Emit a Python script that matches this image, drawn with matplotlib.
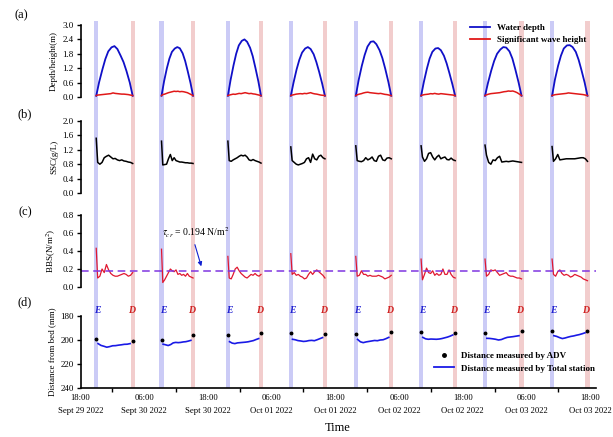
import matplotlib
matplotlib.use("Agg")
import matplotlib.pyplot as plt
import matplotlib.transforms as mtransforms
from matplotlib.lines import Line2D

plt.rcParams['font.family'] = ['Liberation Serif', 'DejaVu Serif']
plt.rcParams['mathtext.fontset'] = 'stix'

# hours after Sept 29 2022 18:00
e_times = [2.96, 15.26, 27.76, 39.61, 51.85, 64.15, 76.19, 88.82]   # E (blue band)
d_times = [9.83, 21.2, 34.0, 46.04, 58.53, 70.57, 83.07, 95.49]     # D (red band)

tick_hours = [0, 12, 24, 36, 48, 60, 72, 84, 96]
tick_labels = ["18:00\nSept 29 2022", "06:00\nSept 30 2022", "18:00\nSept 30 2022",
               "06:00\nOct 01 2022", "18:00\nOct 01 2022", "06:00\nOct 02 2022",
               "18:00\nOct 02 2022", "06:00\nOct 03 2022", "18:00\nOct 03 2022"]

# relative position inside each E-D window
frac_depth = [0, .08, .17, .25, .33, .42, .5, .58, .67, .75, .83, .92, 1]
frac_fine = [0, .04, .1, .16, .22, .28, .34, .4, .46, .52, .58, .64, .7, .76, .82, .88, .94, 1]
frac_dist = [.05, .13, .21, .29, .37, .45, .53, .61, .69, .77, .85, .93]

depth = [
    [0.05, 0.62, 1.15, 1.58, 1.90, 2.07, 2.12, 2.00, 1.72, 1.45, 1.08, 0.60, 0.05],
    [0.05, 0.65, 1.20, 1.60, 1.88, 2.02, 2.08, 2.03, 1.82, 1.50, 1.08, 0.58, 0.05],
    [0.05, 0.70, 1.32, 1.80, 2.15, 2.34, 2.40, 2.30, 2.05, 1.70, 1.22, 0.65, 0.05],
    [0.05, 0.60, 1.15, 1.55, 1.85, 2.02, 2.08, 2.00, 1.78, 1.45, 1.05, 0.55, 0.05],
    [0.05, 0.70, 1.30, 1.75, 2.10, 2.30, 2.32, 2.20, 1.95, 1.62, 1.18, 0.62, 0.05],
    [0.05, 0.62, 1.18, 1.60, 1.88, 2.02, 2.04, 1.95, 1.72, 1.40, 1.00, 0.52, 0.05],
    [0.05, 0.58, 1.10, 1.50, 1.80, 1.98, 2.08, 2.06, 1.90, 1.60, 1.15, 0.60, 0.05],
    [0.05, 0.72, 1.30, 1.72, 2.02, 2.15, 2.16, 2.08, 1.88, 1.55, 1.12, 0.60, 0.05],
]

wave = [
    [0.06, 0.08, 0.09, 0.1, 0.11, 0.12, 0.13, 0.14, 0.17, 0.15, 0.14, 0.13, 0.12, 0.12, 0.11, 0.1, 0.08, 0.06],
    [0.06, 0.1, 0.12, 0.15, 0.18, 0.2, 0.22, 0.24, 0.23, 0.24, 0.22, 0.23, 0.22, 0.2, 0.18, 0.14, 0.1, 0.06],
    [0.06, 0.08, 0.1, 0.12, 0.11, 0.13, 0.15, 0.14, 0.16, 0.18, 0.16, 0.14, 0.15, 0.13, 0.12, 0.1, 0.08, 0.06],
    [0.06, 0.08, 0.1, 0.12, 0.13, 0.14, 0.13, 0.15, 0.14, 0.16, 0.18, 0.15, 0.13, 0.12, 0.1, 0.08, 0.07, 0.06],
    [0.06, 0.09, 0.12, 0.14, 0.17, 0.19, 0.2, 0.18, 0.17, 0.16, 0.15, 0.14, 0.15, 0.13, 0.11, 0.1, 0.08, 0.06],
    [0.06, 0.08, 0.1, 0.11, 0.12, 0.14, 0.13, 0.15, 0.13, 0.12, 0.14, 0.13, 0.12, 0.11, 0.1, 0.09, 0.08, 0.06],
    [0.06, 0.09, 0.12, 0.14, 0.15, 0.16, 0.17, 0.18, 0.2, 0.22, 0.23, 0.25, 0.24, 0.25, 0.22, 0.18, 0.12, 0.06],
    [0.06, 0.08, 0.1, 0.11, 0.12, 0.13, 0.14, 0.15, 0.17, 0.16, 0.15, 0.14, 0.13, 0.12, 0.11, 0.1, 0.08, 0.06],
]

ssc = [
    [1.52, 0.85, 0.80, 0.85, 0.98, 1.02, 1.05, 1.00, 0.95, 0.96, 0.92, 0.90, 0.92, 0.89, 0.88, 0.86, 0.85, 0.82],
    [1.44, 0.78, 0.79, 0.80, 0.95, 1.07, 0.90, 0.98, 0.90, 0.88, 0.86, 0.86, 0.85, 0.84, 0.84, 0.83, 0.83, 0.82],
    [1.44, 0.90, 0.88, 0.92, 0.95, 0.98, 1.02, 1.05, 1.03, 1.05, 1.00, 0.92, 0.90, 0.93, 0.90, 0.88, 0.86, 0.83],
    [1.28, 0.90, 0.85, 0.80, 0.78, 0.80, 0.82, 0.85, 0.95, 0.98, 0.85, 1.08, 0.95, 0.92, 1.02, 1.05, 0.98, 0.95],
    [1.31, 0.90, 0.88, 0.87, 0.90, 0.98, 0.92, 0.95, 1.00, 0.90, 0.88, 1.02, 1.05, 0.92, 0.90, 0.97, 0.98, 0.95],
    [1.31, 1.00, 0.88, 0.95, 1.10, 1.12, 1.00, 0.92, 1.00, 1.05, 0.95, 0.98, 1.00, 0.93, 0.92, 0.97, 0.92, 0.90],
    [1.33, 1.05, 0.85, 0.80, 0.92, 0.90, 0.98, 1.02, 0.86, 0.87, 0.88, 0.87, 0.88, 0.89, 0.88, 0.87, 0.86, 0.85],
    [1.29, 0.88, 0.95, 1.07, 0.92, 0.93, 0.94, 0.95, 0.95, 0.95, 0.95, 0.95, 0.96, 0.97, 0.98, 0.98, 0.95, 0.88],
]

bbs = [
    [0.43, 0.10, 0.12, 0.20, 0.16, 0.25, 0.19, 0.15, 0.13, 0.12, 0.12, 0.13, 0.14, 0.15, 0.14, 0.12, 0.13, 0.16],
    [0.42, 0.05, 0.08, 0.12, 0.16, 0.20, 0.18, 0.17, 0.19, 0.14, 0.15, 0.13, 0.14, 0.12, 0.15, 0.12, 0.11, 0.10],
    [0.34, 0.10, 0.09, 0.14, 0.20, 0.22, 0.18, 0.15, 0.13, 0.11, 0.10, 0.12, 0.14, 0.13, 0.15, 0.13, 0.12, 0.14],
    [0.37, 0.14, 0.16, 0.13, 0.14, 0.12, 0.11, 0.09, 0.10, 0.14, 0.17, 0.14, 0.17, 0.19, 0.17, 0.15, 0.13, 0.10],
    [0.34, 0.12, 0.13, 0.18, 0.14, 0.14, 0.12, 0.13, 0.12, 0.12, 0.12, 0.13, 0.12, 0.11, 0.09, 0.10, 0.11, 0.13],
    [0.31, 0.08, 0.14, 0.21, 0.16, 0.15, 0.18, 0.13, 0.15, 0.13, 0.14, 0.20, 0.14, 0.14, 0.19, 0.14, 0.11, 0.10],
    [0.31, 0.12, 0.14, 0.19, 0.18, 0.19, 0.16, 0.13, 0.14, 0.15, 0.16, 0.13, 0.12, 0.12, 0.11, 0.10, 0.10, 0.09],
    [0.31, 0.14, 0.12, 0.17, 0.19, 0.15, 0.13, 0.14, 0.13, 0.11, 0.12, 0.14, 0.13, 0.12, 0.11, 0.09, 0.08, 0.07],
]
tau_cr = 0.18

adv_e = [199.2, 200.0, 195.8, 194.4, 195.0, 193.0, 193.9, 192.5]
adv_d = [200.8, 195.6, 194.4, 194.7, 193.0, 193.9, 192.5, 192.5]
station = [
    [203.0, 204.5, 205.2, 206.0, 205.5, 204.8, 204.7, 204.3, 204.0, 203.6, 203.5, 203.0],
    [203.5, 204.0, 204.6, 203.8, 202.4, 202.0, 202.2, 202.0, 201.6, 201.4, 200.9, 200.3],
    [201.4, 202.6, 203.0, 202.4, 202.2, 202.0, 201.8, 201.5, 201.0, 200.5, 199.6, 198.8],
    [199.4, 199.8, 200.5, 200.8, 201.2, 201.0, 200.5, 200.3, 200.6, 199.8, 198.9, 198.0],
    [199.5, 201.5, 202.2, 201.6, 201.2, 200.8, 200.4, 200.6, 200.0, 199.8, 198.9, 197.8],
    [197.8, 199.0, 199.4, 199.2, 199.3, 199.4, 199.2, 198.8, 198.2, 197.6, 196.8, 195.8],
    [198.6, 198.7, 199.0, 199.4, 200.0, 199.6, 198.6, 197.8, 197.5, 197.2, 196.8, 196.4],
    [196.4, 197.0, 198.0, 198.8, 198.3, 197.6, 197.0, 196.6, 196.0, 195.5, 194.8, 194.0],
]


def wtimes(i, fr):
    return [e_times[i] + f * (d_times[i] - e_times[i]) for f in fr]


W, H = 613, 437
fig = plt.figure(figsize=(W / 100, H / 100), dpi=100)
x0 = 80.5 / W
xw = 515 / W
XMAX = 97


def px_axes(top, bottom):
    return [x0, 1 - bottom / H, xw, (bottom - top) / H]


# background bands across all panels
bg = fig.add_axes(px_axes(21, 388))
bg.set_xlim(0, XMAX)
bg.axis('off')
for e, d in zip(e_times, d_times):
    bg.axvspan(e - 0.4, e + 0.4, color='#cbcbf6', lw=0)
    bg.axvspan(d - 0.4, d + 0.4, color='#f2cdcd', lw=0)

ax_a = fig.add_axes(px_axes(25, 97))
ax_b = fig.add_axes(px_axes(121, 193))
ax_c = fig.add_axes(px_axes(215, 287))
ax_d = fig.add_axes(px_axes(316, 388))
axes = [ax_a, ax_b, ax_c, ax_d]

for ax in axes:
    ax.set_facecolor('none')
    ax.set_xlim(0, XMAX)
    for s in ['top', 'right']:
        ax.spines[s].set_visible(False)
    ax.spines['left'].set_linewidth(1.2)
    ax.tick_params(axis='y', labelsize=6.5, length=3, width=1, pad=2)
for ax in axes[:3]:
    ax.spines['bottom'].set_visible(False)
    ax.set_xticks([])

# (a)
for i in range(8):
    ax_a.plot(wtimes(i, frac_depth), depth[i], color='#1010c8', lw=1.3)
    ax_a.plot(wtimes(i, frac_fine), wave[i], color='#e01818', lw=1.1)
ax_a.set_ylim(0, 3.0)
ax_a.set_yticks([0, 0.6, 1.2, 1.8, 2.4, 3.0])
ax_a.set_yticklabels(["0.0", "0.6", "1.2", "1.8", "2.4", "3.0"])
ax_a.set_ylabel("Depth/height(m)", fontsize=6.5, labelpad=3)
handles = [Line2D([], [], color='#1010c8', lw=1.3), Line2D([], [], color='#e01818', lw=1.3)]
ax_a.legend(handles, ["Water depth", "Significant wave height"], loc='upper left',
            bbox_to_anchor=(0.74, 1.13), frameon=False, handlelength=2.2,
            prop={'size': 6.5, 'weight': 'bold'}, labelspacing=0.4)

# (b)
for i in range(8):
    ax_b.plot(wtimes(i, frac_fine), ssc[i], color='black', lw=1.1)
ax_b.set_ylim(0, 2.0)
ax_b.set_yticks([0, 0.4, 0.8, 1.2, 1.6, 2.0])
ax_b.set_yticklabels(["0.0", "0.4", "0.8", "1.2", "1.6", "2.0"])
ax_b.set_ylabel("SSC(g/L)", fontsize=6.5, labelpad=3)

# (c)
for i in range(8):
    ax_c.plot(wtimes(i, frac_fine), bbs[i], color='#e01830', lw=0.9)
ax_c.axhline(tau_cr, color='#7f35e0', lw=1.1, ls=(0, (5, 3)))
ax_c.set_ylim(0, 0.8)
ax_c.set_yticks([0, 0.2, 0.4, 0.6, 0.8])
ax_c.set_yticklabels(["0.0", "0.2", "0.4", "0.6", "0.8"])
ax_c.set_ylabel("BBS(N/m$^2$)", fontsize=6.5, labelpad=3)
ax_c.text(15.3, 0.6, r"$\tau_{cr}$ = 0.194 N/m$^2$", fontsize=7, va='center', ha='left')
ax_c.annotate('', xy=(22.9, 0.2), xytext=(21.4, 0.5),
              arrowprops=dict(arrowstyle='-|>', color='#1020d0', lw=0.8, mutation_scale=6))

# (d)
for i in range(8):
    ax_d.plot(wtimes(i, frac_dist), station[i], color='#1a1ae6', lw=1.2)
ax_d.plot(e_times, adv_e, 'o', color='black', ms=1.8)
ax_d.plot(d_times, adv_d, 'o', color='black', ms=1.8)
ax_d.set_ylim(240, 180)
ax_d.set_yticks([180, 200, 220, 240])
ax_d.set_ylabel("Distance from bed (mm)", fontsize=6.5, labelpad=3)
ax_d.spines['bottom'].set_linewidth(1.2)
ax_d.set_xticks(tick_hours)
ax_d.set_xticklabels(tick_labels, fontsize=6.2, linespacing=1.9)
ax_d.tick_params(axis='x', which='major', length=0, pad=4)
ax_d.set_xticks([6, 18, 30, 42, 54, 66, 78, 90], minor=True)
ax_d.tick_params(axis='x', which='minor', length=3, width=1)
ax_d.set_xlabel("Time", fontsize=9, labelpad=5)
h2 = [Line2D([], [], color='black', marker='o', ls='none', ms=2.5),
      Line2D([], [], color='#1a1ae6', lw=1.3)]
ax_d.legend(h2, ["Distance measured by ADV", "Distance measured by Total station"],
            loc='upper left', bbox_to_anchor=(0.67, 0.62), frameon=False,
            handlelength=2.2, prop={'size': 6.5, 'weight': 'bold'}, labelspacing=0.5)

trans = mtransforms.blended_transform_factory(ax_d.transData, ax_d.transAxes)
for e, d in zip(e_times, d_times):
    ax_d.text(e + 0.3, 1.08, "E", color='#2020d0', fontsize=7, fontweight='bold',
              style='italic', ha='center', va='center', transform=trans, clip_on=False)
    ax_d.text(d - 0.3, 1.08, "D", color='#d02020', fontsize=7, fontweight='bold',
              style='italic', ha='center', va='center', transform=trans, clip_on=False)

for lab, ypx, xpx in [("(a)", 15, 21), ("(b)", 114, 25), ("(c)", 212, 25), ("(d)", 302, 25)]:
    fig.text(xpx / W, 1 - ypx / H, lab, fontsize=9, ha='center', va='center')

fig.savefig("out.png", dpi=100)
